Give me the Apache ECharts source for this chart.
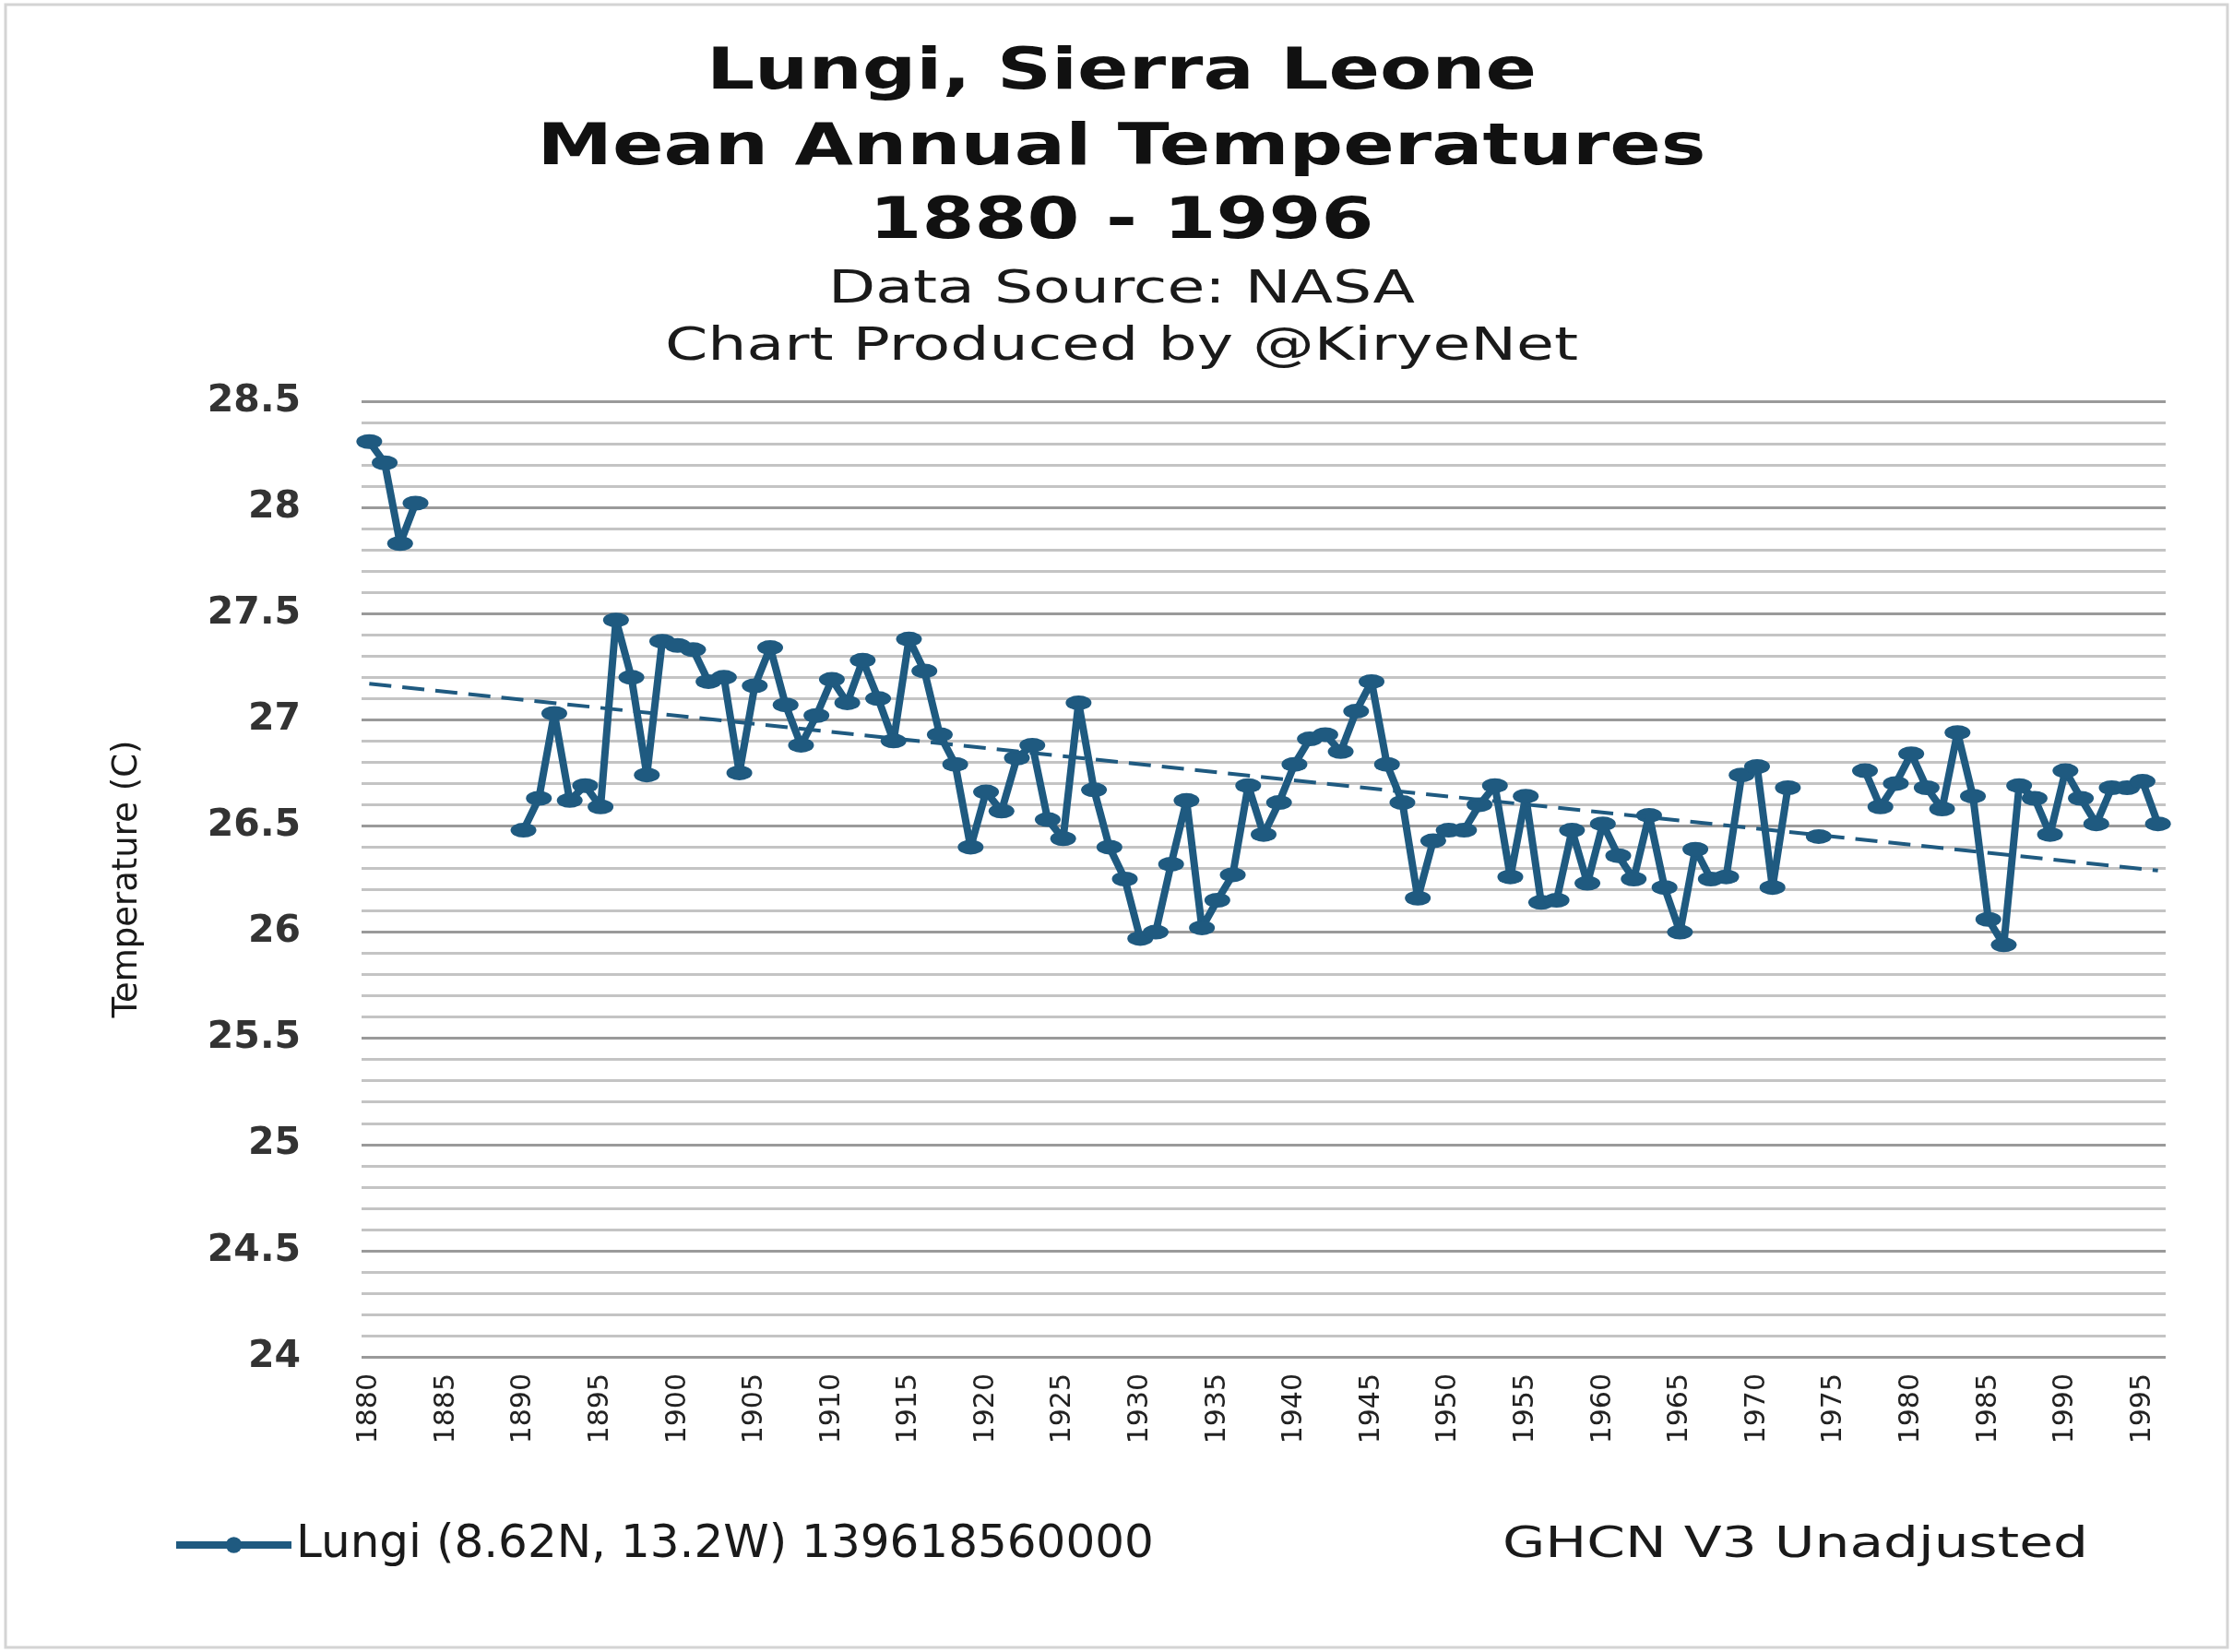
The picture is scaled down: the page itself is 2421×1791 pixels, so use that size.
<!DOCTYPE html>
<html>
<head>
<meta charset="utf-8">
<title>Lungi, Sierra Leone - Mean Annual Temperatures</title>
<script src="https://cdn.jsdelivr.net/npm/echarts@6/dist/echarts.min.js"></script>
<style>
  html, body { margin: 0; padding: 0; background: #fff; }
  #chart { width: 2421px; height: 1791px; }
</style>
</head>
<body>
<div id="chart"></div>
<script>
// years on the category axis
const firstYear = 1880;
const lastYear = 1996;
const years = [];
for (let y = firstYear; y <= lastYear; y++) years.push(String(y));

// mean annual temperature (C), null = no data that year
const temps = [
  28.31, 28.21, 27.83, 28.02, null, null, null, null, null, null,   // 1880-1889
  26.48, 26.63, 27.03, 26.62, 26.69, 26.59, 27.47, 27.20, 26.74, 27.37, // 1890-1899
  27.35, 27.33, 27.18, 27.20, 26.75, 27.16, 27.34, 27.07, 26.88, 27.02, // 1900-1909
  27.19, 27.08, 27.28, 27.10, 26.90, 27.38, 27.23, 26.93, 26.79, 26.40, // 1910-1919
  26.66, 26.57, 26.82, 26.88, 26.53, 26.44, 27.08, 26.67, 26.40, 26.25, // 1920-1929
  25.97, 26.00, 26.32, 26.62, 26.02, 26.15, 26.27, 26.69, 26.46, 26.61, // 1930-1939
  26.79, 26.91, 26.93, 26.85, 27.04, 27.18, 26.79, 26.61, 26.16, 26.43, // 1940-1949
  26.48, 26.48, 26.60, 26.69, 26.26, 26.64, 26.14, 26.15, 26.48, 26.23, // 1950-1959
  26.51, 26.36, 26.25, 26.55, 26.21, 26.00, 26.39, 26.25, 26.26, 26.74, // 1960-1969
  26.78, 26.21, 26.68, null, 26.45, null, null, 26.76, 26.59, 26.70,   // 1970-1979
  26.84, 26.68, 26.58, 26.94, 26.64, 26.06, 25.94, 26.69, 26.63, 26.46, // 1980-1989
  26.76, 26.63, 26.51, 26.68, 26.68, 26.71, 26.51                      // 1990-1996
];

// linear trend end points
const trendYears = ['1880', '1996'];
const trendValues = [27.17, 26.29];

const titleLines = ['Lungi, Sierra Leone', 'Mean Annual Temperatures', '1880 - 1996'];
const subLines = ['Data Source: NASA', 'Chart Produced by @KiryeNet'];
const seriesName = 'Lungi (8.62N, 13.2W) 139618560000';
const noteText = 'GHCN V3 Unadjusted';

const blue = '#1f5a80';
const font = '"DejaVu Sans", "Noto Sans", sans-serif';

let myChart = echarts.init(document.getElementById('chart'), null, { renderer: 'canvas' });

// title text is drawn stretched, like the original
const titleY = [80, 162, 242];
const subY = [315, 377];
const graphics = [
  {
    type: 'rect',
    shape: { x: 6, y: 5, width: 2409, height: 1781 },
    style: { fill: null, stroke: '#d4d4d4', lineWidth: 3 },
    silent: true
  }
];
titleLines.forEach((t, i) => {
  graphics.push({
    type: 'text', x: 1216, y: titleY[i], scaleX: 1.3,
    style: {
      text: t, fontSize: 63, fontWeight: 'bold', fontFamily: font, fill: '#111',
      align: 'center', verticalAlign: 'middle', textAlign: 'center', textVerticalAlign: 'middle'
    }
  });
});
subLines.forEach((t, i) => {
  graphics.push({
    type: 'text', x: 1216, y: subY[i], scaleX: 1.33,
    style: {
      text: t, fontSize: 50, fontFamily: font, fill: '#1a1a1a',
      align: 'center', verticalAlign: 'middle', textAlign: 'center', textVerticalAlign: 'middle'
    }
  });
});
graphics.push({
  type: 'text', x: 1629, y: 1676, scaleX: 1.3,
  style: {
    text: noteText, fontSize: 46, fontFamily: font, fill: '#1a1a1a',
    align: 'left', verticalAlign: 'middle', textAlign: 'left', textVerticalAlign: 'middle'
  }
});

const option = {
  backgroundColor: '#ffffff',
  animation: false,
  graphic: graphics,
  grid: { left: 392, right: 73, top: 435, bottom: 320, containLabel: false },
  legend: {
    data: [seriesName],
    left: 182,
    top: 1645,
    itemWidth: 125,
    itemHeight: 22,
    lineStyle: { width: 8 },
    textStyle: { fontSize: 50, fontFamily: font, color: '#1a1a1a' }
  },
  xAxis: {
    type: 'category',
    data: years,
    boundaryGap: true,
    axisLine: { show: false },
    axisTick: { show: false },
    splitLine: { show: false },
    axisLabel: {
      interval: 4,
      rotate: 90,
      margin: 18,
      fontSize: 30,
      fontFamily: font,
      color: '#222'
    }
  },
  yAxis: {
    type: 'value',
    min: 24,
    max: 28.5,
    interval: 0.5,
    name: 'Temperature (C)',
    nameLocation: 'middle',
    nameRotate: 90,
    nameGap: 235,
    nameTextStyle: { fontSize: 37, fontFamily: font, color: '#1a1a1a' },
    axisLine: { show: false },
    axisTick: { show: false },
    axisLabel: {
      margin: 66,
      fontSize: 41,
      fontWeight: 'bold',
      fontFamily: font,
      color: '#333'
    },
    splitLine: { lineStyle: { color: '#9a9a9a', width: 3 } },
    minorTick: { show: false, splitNumber: 5 },
    minorSplitLine: { show: true, lineStyle: { color: '#c4c4c4', width: 3 } }
  },
  series: [
    {
      name: seriesName,
      type: 'line',
      data: temps,
      connectNulls: false,
      symbol: 'circle',
      symbolSize: [28, 16],
      showSymbol: true,
      showAllSymbol: true,
      itemStyle: { color: blue },
      lineStyle: { color: blue, width: 8 },
      z: 2
    },
    {
      name: 'Trend',
      type: 'line',
      data: [[trendYears[0], trendValues[0]], [trendYears[1], trendValues[1]]],
      showSymbol: false,
      symbol: 'none',
      lineStyle: { color: blue, width: 4, type: [24, 12] },
      silent: true,
      z: 3
    }
  ]
};

myChart.setOption(option);
window.addEventListener('resize', function () {
  myChart.resize();
});
</script>
</body>
</html>
